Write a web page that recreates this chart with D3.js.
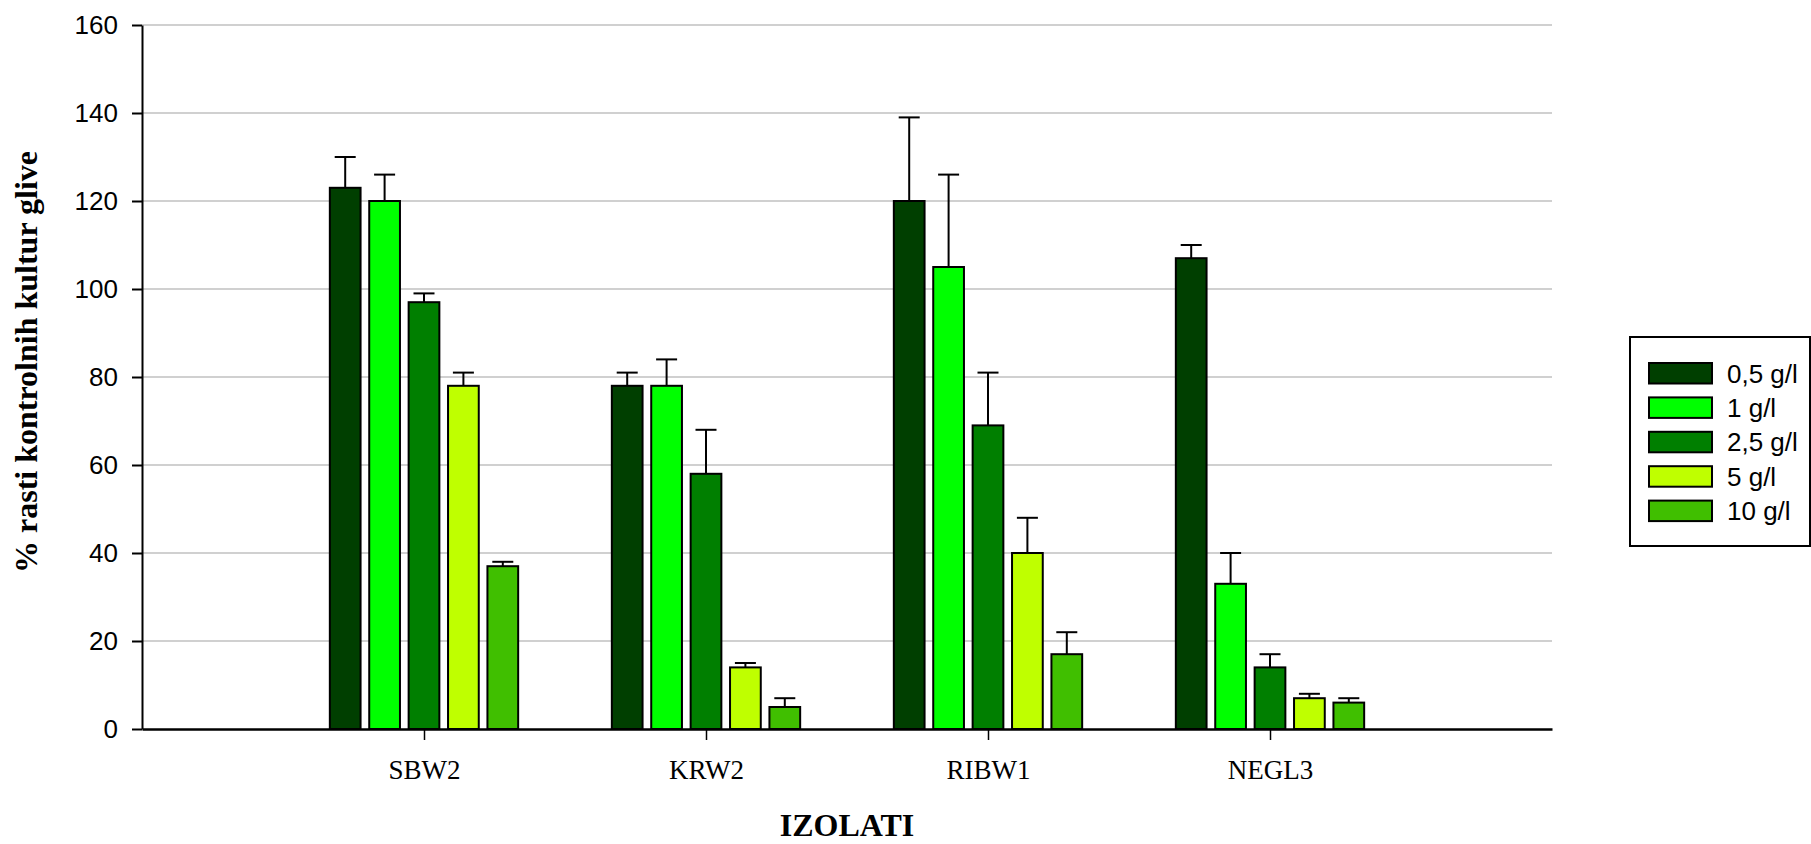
<!DOCTYPE html>
<html>
<head>
<meta charset="utf-8">
<script src="https://cdn.jsdelivr.net/npm/d3@7"></script>
<style>
    body { margin: 0; background: #fff; }
    svg { display: block; }
</style>
</head>
<body>
<div id="graph"></div>
<script>
const categories = ["SBW2", "KRW2", "RIBW1", "NEGL3"]
const seriesNames = ["0,5 g/l", "1 g/l", "2,5 g/l", "5 g/l", "10 g/l"]
const seriesColors = ["#003f00", "#00ff00", "#007f00", "#bfff00", "#40bf00"]
// values per series, in category order
const values = [
    [123, 78, 120, 107],
    [120, 78, 105, 33],
    [97, 58, 69, 14],
    [78, 14, 40, 7],
    [37, 5, 17, 6]
]
// top of error bar per series
const errorTops = [
    [130, 81, 139, 110],
    [126, 84, 126, 40],
    [99, 68, 81, 17],
    [81, 15, 48, 8],
    [38, 7, 22, 7]
]
const yTicks = [0, 20, 40, 60, 80, 100, 120, 140, 160]

const width = 1811
const height = 844
const plot = {left: 142, right: 1552, top: 25, bottom: 729}

const rows = categories.flatMap((c, ci) => seriesNames.map((s, si) => ({
    category: c, series: s, color: seriesColors[si], value: values[si][ci], top: errorTops[si][ci]
})))

const xScale = d3.scalePoint()
    .domain(categories)
    .range([plot.left, plot.right])
    .padding(1)

const inner = d3.scaleBand()
    .domain(seriesNames)
    .range([-98.5, 98.5])
    .paddingInner(0.22)
    .paddingOuter(0.11)

const yScale = d3.scaleLinear()
    .domain([0, 160])
    .range([plot.bottom, plot.top])

const svg = d3.select("#graph")
    .append("svg")
    .attr("width", width)
    .attr("height", height)

// grid
svg.append("g")
    .selectAll("line")
    .data(yTicks.filter(t => t > 0))
    .join("line")
    .attr("x1", plot.left)
    .attr("x2", plot.right)
    .attr("y1", d => yScale(d))
    .attr("y2", d => yScale(d))
    .attr("stroke", "#c0c0c0")
    .attr("stroke-width", 1.5)

// bars
svg.append("g")
    .selectAll("rect")
    .data(rows)
    .join("rect")
    .attr("x", d => xScale(d.category) + inner(d.series))
    .attr("y", d => yScale(d.value))
    .attr("width", inner.bandwidth())
    .attr("height", d => yScale(0) - yScale(d.value))
    .attr("fill", d => d.color)
    .attr("stroke", "#000")
    .attr("stroke-width", 2)

// error bars
const err = svg.append("g")
    .attr("stroke", "#000")
    .attr("stroke-width", 2)
    .selectAll("g")
    .data(rows)
    .join("g")
    .attr("transform", d => `translate(${xScale(d.category) + inner(d.series) + inner.bandwidth() / 2}, 0)`)

err.append("line")
    .attr("y1", d => yScale(d.value))
    .attr("y2", d => yScale(d.top))

err.append("line")
    .attr("x1", -10.5)
    .attr("x2", 10.5)
    .attr("y1", d => yScale(d.top))
    .attr("y2", d => yScale(d.top))

// y axis
const yAxis = svg.append("g")
    .attr("transform", `translate(${plot.left}, 0)`)
    .call(d3.axisLeft(yScale).tickValues(yTicks).tickSize(10).tickPadding(14).tickSizeOuter(0))
yAxis.select(".domain").attr("stroke-width", 2)
yAxis.selectAll(".tick line").attr("stroke-width", 2)
yAxis.selectAll("text")
    .attr("font-family", "Liberation Sans, Arial, sans-serif")
    .attr("font-size", 26)
    .attr("fill", "#000")

// x axis
const xAxis = svg.append("g")
    .attr("transform", `translate(0, ${plot.bottom})`)
    .call(d3.axisBottom(xScale).tickSize(11).tickPadding(20).tickSizeOuter(0))
xAxis.select(".domain").attr("stroke-width", 2.5)
xAxis.selectAll(".tick line").attr("stroke-width", 1.5)
xAxis.selectAll("text")
    .attr("font-family", "Liberation Serif, Times New Roman, serif")
    .attr("font-size", 27)
    .attr("fill", "#000")

svg.append("text")
    .attr("x", (plot.left + plot.right) / 2)
    .attr("y", 836)
    .attr("text-anchor", "middle")
    .attr("font-family", "Liberation Serif, Times New Roman, serif")
    .attr("font-weight", "bold")
    .attr("font-size", 32)
    .text("IZOLATI")

svg.append("text")
    .attr("transform", "translate(37, 362) rotate(-90)")
    .attr("text-anchor", "middle")
    .attr("font-family", "Liberation Serif, Times New Roman, serif")
    .attr("font-weight", "bold")
    .attr("font-size", 32)
    .text("% rasti kontrolnih kultur glive")

// legend
const legend = svg.append("g")
    .attr("transform", "translate(1630, 337)")

legend.append("rect")
    .attr("width", 180)
    .attr("height", 209)
    .attr("fill", "#fff")
    .attr("stroke", "#000")
    .attr("stroke-width", 2)

const item = legend.selectAll("g")
    .data(seriesNames)
    .join("g")
    .attr("transform", (d, i) => `translate(19, ${26 + i * 34.4})`)

item.append("rect")
    .attr("width", 63)
    .attr("height", 20.5)
    .attr("fill", (d, i) => seriesColors[i])
    .attr("stroke", "#000")
    .attr("stroke-width", 2)

item.append("text")
    .attr("x", 78)
    .attr("y", 10.5)
    .attr("dy", "0.35em")
    .attr("font-family", "Liberation Sans, Arial, sans-serif")
    .attr("font-size", 26)
    .text(d => d)
</script>
</body>
</html>
